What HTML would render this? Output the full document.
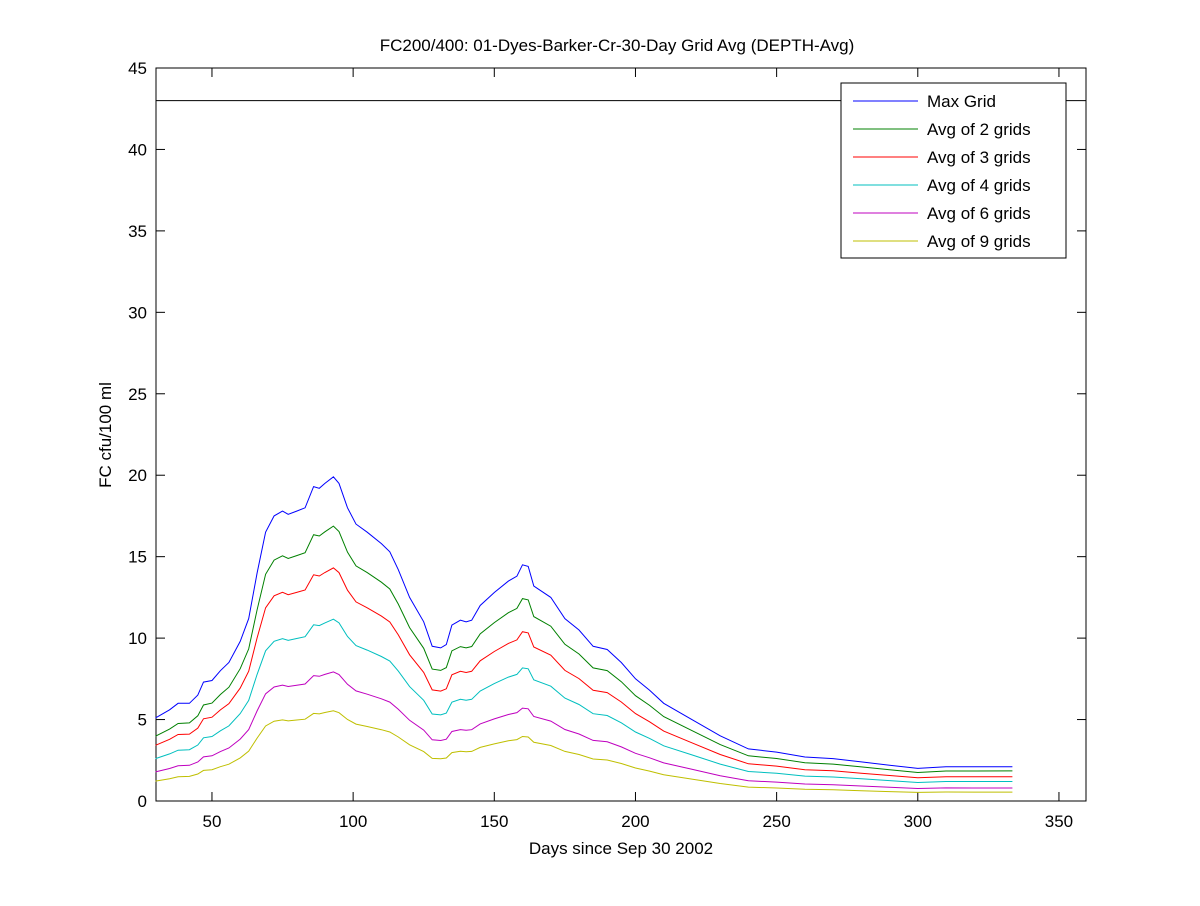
<!DOCTYPE html>
<html><head><meta charset="utf-8"><style>
body{margin:0;background:#fff;}
svg text{font-family:"Liberation Sans",Arial,sans-serif;fill:#000;}
</style></head><body>
<svg id="s" width="1200" height="901" xmlns="http://www.w3.org/2000/svg">
<rect x="0" y="0" width="1200" height="901" fill="#fff"/>
<rect x="156" y="68" width="930" height="733" fill="#fff" stroke="#000" stroke-width="1"/>
<line x1="156" y1="100.6" x2="1086" y2="100.6" stroke="#000" stroke-width="1"/>
<g id="ticks" stroke="#000" stroke-width="1"></g>
<g id="lbl" font-size="17"></g>
<g id="series" fill="none" stroke-width="1"></g>
<text x="617" y="51" font-size="17" text-anchor="middle">FC200/400: 01-Dyes-Barker-Cr-30-Day Grid Avg (DEPTH-Avg)</text>
<text x="621" y="854" font-size="17" text-anchor="middle">Days since Sep 30 2002</text>
<text transform="translate(111,435) rotate(-90)" font-size="17" text-anchor="middle">FC cfu/100 ml</text>
<rect x="841" y="83" width="225" height="175" fill="#fff" stroke="#000" stroke-width="1"/>
<g id="leg" font-size="17"></g>
</svg>
<script>
var X=function(d){return 155.5+(d-30)*2.8233;};
var Y=function(v){return 801-v*16.289;};
var NS="http://www.w3.org/2000/svg";
function el(p,t,a,txt){var e=document.createElementNS(NS,t);for(var k in a)e.setAttribute(k,a[k]);if(txt!==undefined)e.textContent=txt;document.getElementById(p).appendChild(e);}
[50,100,150,200,250,300,350].forEach(function(d){var x=X(d);
el("ticks","line",{x1:x,y1:801,x2:x,y2:792});el("ticks","line",{x1:x,y1:68,x2:x,y2:77});
el("lbl","text",{x:x,y:827,"text-anchor":"middle"},String(d));});
for(var v=0;v<=45;v+=5){var y=Y(v);
el("ticks","line",{x1:156,y1:y,x2:165,y2:y});el("ticks","line",{x1:1086,y1:y,x2:1077,y2:y});
el("lbl","text",{x:147,y:y+6,"text-anchor":"end"},String(v));}
var P=[[30,5.1],[35,5.6],[38,6.0],[42,6.0],[45,6.5],[47,7.3],[50,7.4],[53,8.0],[56,8.5],[60,9.8],[63,11.2],[66,14],[69,16.5],[72,17.5],[75,17.8],[77,17.6],[80,17.8],[83,18],[86,19.3],[88,19.2],[90,19.5],[93,19.9],[95,19.5],[98,18],[101,17],[105,16.5],[110,15.8],[113,15.3],[116,14.2],[120,12.5],[125,11],[128,9.5],[131,9.4],[133,9.6],[135,10.8],[138,11.1],[140,11],[142,11.1],[145,12],[150,12.8],[155,13.5],[158,13.8],[160,14.5],[162,14.4],[164,13.2],[170,12.5],[175,11.2],[180,10.5],[185,9.5],[190,9.3],[195,8.5],[200,7.5],[205,6.8],[210,6.0],[220,5],[230,4],[240,3.2],[250,3.0],[260,2.7],[270,2.6],[280,2.4],[290,2.2],[300,2.0],[310,2.1],[320,2.1],[333.5,2.1]];
var S=[["#0000ff",[1,1,1],"Max Grid"],["#008000",[0.78,0.845,0.88],"Avg of 2 grids"],["#ff0000",[0.67,0.72,0.71],"Avg of 3 grids"],["#00bfbf",[0.51,0.56,0.57],"Avg of 4 grids"],["#bf00bf",[0.35,0.4,0.38],"Avg of 6 grids"],["#bfbf00",[0.24,0.28,0.26],"Avg of 9 grids"]];
function ratio(r,d){if(d<70){var t=(d-30)/40;return r[0]+(r[1]-r[0])*t;}var t2=Math.min(1,(d-70)/264);return r[1]+(r[2]-r[1])*t2;}
S.forEach(function(s,i){
var d=P.map(function(p,j){return (j?"L":"M")+X(p[0]).toFixed(1)+" "+Y(p[1]*ratio(s[1],p[0])).toFixed(1);}).join("");
el("series","path",{d:d,stroke:s[0]});
var ly=101+i*28;
el("leg","line",{x1:853,y1:ly,x2:918,y2:ly,stroke:s[0]});
el("leg","text",{x:927,y:ly+6},s[2]);
});
</script>
</body></html>
